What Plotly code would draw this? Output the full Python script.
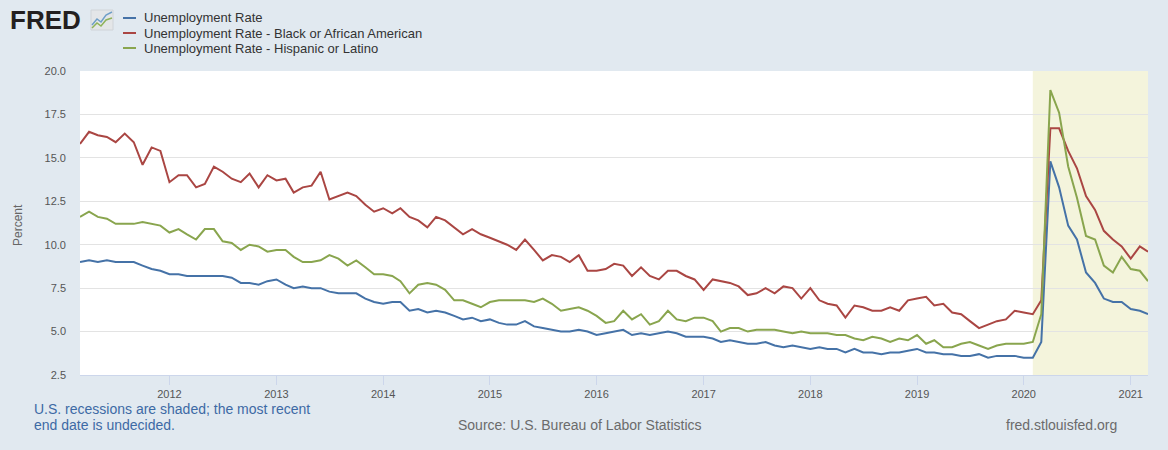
import pandas as pd
import plotly.graph_objects as go

# ---------------- data ----------------
start_month = "2011-03-01"
n_months = 121
months = pd.date_range(start_month, periods=n_months, freq="MS")

unrate = [
    9.0, 9.1, 9.0, 9.1, 9.0, 9.0, 9.0, 8.8, 8.6, 8.5,
    8.3, 8.3, 8.2, 8.2, 8.2, 8.2, 8.2, 8.1, 7.8, 7.8, 7.7, 7.9,
    8.0, 7.7, 7.5, 7.6, 7.5, 7.5, 7.3, 7.2, 7.2, 7.2, 6.9, 6.7,
    6.6, 6.7, 6.7, 6.2, 6.3, 6.1, 6.2, 6.1, 5.9, 5.7, 5.8, 5.6,
    5.7, 5.5, 5.4, 5.4, 5.6, 5.3, 5.2, 5.1, 5.0, 5.0, 5.1, 5.0,
    4.8, 4.9, 5.0, 5.1, 4.8, 4.9, 4.8, 4.9, 5.0, 4.9, 4.7, 4.7,
    4.7, 4.6, 4.4, 4.5, 4.4, 4.3, 4.3, 4.4, 4.2, 4.1, 4.2, 4.1,
    4.0, 4.1, 4.0, 4.0, 3.8, 4.0, 3.8, 3.8, 3.7, 3.8, 3.8, 3.9,
    4.0, 3.8, 3.8, 3.7, 3.7, 3.6, 3.6, 3.7, 3.5, 3.6, 3.6, 3.6,
    3.5, 3.5, 4.4, 14.8, 13.3, 11.1, 10.3, 8.4, 7.8, 6.9, 6.7, 6.7,
    6.3, 6.2, 6.0,
]
black = [
    15.8, 16.5, 16.3, 16.2, 15.9, 16.4, 15.9, 14.6, 15.6, 15.4,
    13.6, 14.0, 14.0, 13.3, 13.5, 14.5, 14.2, 13.8, 13.6, 14.1, 13.3, 14.0,
    13.7, 13.8, 13.0, 13.3, 13.4, 14.2, 12.6, 12.8, 13.0, 12.8, 12.3, 11.9,
    12.1, 11.8, 12.1, 11.6, 11.4, 11.0, 11.6, 11.4, 11.0, 10.6, 10.9, 10.6,
    10.4, 10.2, 10.0, 9.7, 10.3, 9.7, 9.1, 9.4, 9.3, 9.0, 9.4, 8.5,
    8.5, 8.6, 8.9, 8.8, 8.2, 8.7, 8.2, 8.0, 8.5, 8.5, 8.2, 8.0,
    7.4, 8.0, 7.9, 7.8, 7.6, 7.1, 7.2, 7.5, 7.2, 7.6, 7.5, 6.9,
    7.5, 6.8, 6.6, 6.5, 5.8, 6.5, 6.4, 6.2, 6.2, 6.4, 6.2, 6.8,
    6.9, 7.0, 6.5, 6.6, 6.1, 6.0, 5.6, 5.2, 5.4, 5.6, 5.7, 6.2,
    6.1, 6.0, 6.8, 16.7, 16.7, 15.4, 14.4, 12.8, 12.0, 10.8, 10.3, 9.9,
    9.2, 9.9, 9.6,
]
hispanic = [
    11.6, 11.9, 11.6, 11.5, 11.2, 11.2, 11.2, 11.3, 11.2, 11.1,
    10.7, 10.9, 10.6, 10.3, 10.9, 10.9, 10.2, 10.1, 9.7, 10.0, 9.9, 9.6,
    9.7, 9.7, 9.3, 9.0, 9.0, 9.1, 9.4, 9.2, 8.8, 9.1, 8.7, 8.3,
    8.3, 8.2, 7.9, 7.2, 7.7, 7.8, 7.7, 7.4, 6.8, 6.8, 6.6, 6.4,
    6.7, 6.8, 6.8, 6.8, 6.8, 6.7, 6.9, 6.6, 6.2, 6.3, 6.4, 6.2,
    5.9, 5.5, 5.6, 6.2, 5.7, 6.0, 5.4, 5.6, 6.2, 5.7, 5.6, 5.8,
    5.8, 5.6, 5.0, 5.2, 5.2, 5.0, 5.1, 5.1, 5.1, 5.0, 4.9, 5.0,
    4.9, 4.9, 4.9, 4.8, 4.8, 4.6, 4.5, 4.7, 4.6, 4.4, 4.6, 4.5,
    4.8, 4.3, 4.5, 4.1, 4.1, 4.3, 4.4, 4.2, 4.0, 4.2, 4.3, 4.3,
    4.3, 4.4, 6.0, 18.9, 17.6, 14.5, 12.7, 10.5, 10.3, 8.8, 8.4, 9.3,
    8.6, 8.5, 7.9,
]
series_names = [
    "Unemployment Rate",
    "Unemployment Rate - Black or African American",
    "Unemployment Rate - Hispanic or Latino",
]
series_colors = ["#4572a7", "#aa4643", "#89a54e"]
recession_start = "2020-02-01"
recession_end = "2021-03-01"
tick_years = [2012, 2013, 2014, 2015, 2016, 2017, 2018, 2019, 2020, 2021]
y_ticks = [2.5, 5.0, 7.5, 10.0, 12.5, 15.0, 17.5, 20.0]

# ---------------- layout geometry ----------------
W, H = 1168, 450
L, R, T, B = 80, 20, 71, 75
PW, PH = W - L - R, H - T - B
FONT = "Liberation Sans, Arial, sans-serif"
BG = "#e1e9f0"


def px(xp):
    return (xp - L) / PW


def py(yp):
    return (H - B - yp) / PH


fig = go.Figure()
for vals, name, col in zip([unrate, black, hispanic], series_names, series_colors):
    fig.add_trace(go.Scatter(
        x=months, y=vals, mode="lines", name=name,
        line=dict(color=col, width=2), showlegend=False,
    ))

shapes = [
    dict(type="rect", xref="x", yref="paper", x0=recession_start, x1=recession_end,
         y0=0, y1=1, fillcolor="#f4f4dc", line=dict(width=0), layer="below"),
]
annotations = []

# custom legend
for k, (name, col) in enumerate(zip(series_names, series_colors)):
    yy = 18 + 15 * k
    shapes.append(dict(type="line", xref="paper", yref="paper",
                       x0=px(123), x1=px(136), y0=py(yy), y1=py(yy),
                       line=dict(color=col, width=2)))
    annotations.append(dict(xref="paper", yref="paper", x=px(142), y=py(yy),
                            xanchor="left", yanchor="middle", showarrow=False,
                            text=name, font=dict(family=FONT, size=13, color="#333333")))

# FRED logo
annotations.append(dict(xref="paper", yref="paper", x=px(8), y=py(20),
                        xanchor="left", yanchor="middle", showarrow=False,
                        text="<b>FRED</b>",
                        font=dict(family=FONT, size=26, color="#231f20")))
shapes.append(dict(type="rect", xref="paper", yref="paper",
                   x0=px(91), x1=px(113), y0=py(30), y1=py(10),
                   fillcolor="#e4e6e8", line=dict(color="#d0d4d8", width=1)))
shapes.append(dict(type="path", xref="paper", yref="paper",
                   path="M {} {} L {} {} L {} {} L {} {} L {} {}".format(
                       px(92), py(25), px(97), py(19), px(101), py(22), px(106), py(15), px(112), py(12)),
                   line=dict(color="#6f9fc8", width=1.5)))
shapes.append(dict(type="path", xref="paper", yref="paper",
                   path="M {} {} L {} {} L {} {} L {} {} L {} {}".format(
                       px(92), py(28), px(97), py(23), px(101), py(26), px(106), py(20), px(112), py(18)),
                   line=dict(color="#8fb35a", width=1.5)))

# y axis title
annotations.append(dict(xref="paper", yref="paper", x=px(18), y=py(225),
                        xanchor="center", yanchor="middle", showarrow=False,
                        text="Percent", textangle=-90,
                        font=dict(family=FONT, size=12, color="#666666")))

# footer
annotations += [
    dict(xref="paper", yref="paper", x=px(32), y=py(409), xanchor="left", yanchor="middle",
         showarrow=False, text="U.S. recessions are shaded; the most recent",
         font=dict(family=FONT, size=14, color="#3d6aa5")),
    dict(xref="paper", yref="paper", x=px(32), y=py(425), xanchor="left", yanchor="middle",
         showarrow=False, text="end date is undecided.",
         font=dict(family=FONT, size=14, color="#3d6aa5")),
    dict(xref="paper", yref="paper", x=px(456), y=py(425), xanchor="left", yanchor="middle",
         showarrow=False, text="Source: U.S. Bureau of Labor Statistics",
         font=dict(family=FONT, size=14, color="#6b6b6b")),
    dict(xref="paper", yref="paper", x=px(1004), y=py(425), xanchor="left", yanchor="middle",
         showarrow=False, text="fred.stlouisfed.org",
         font=dict(family=FONT, size=14, color="#6b6b6b")),
]

fig.update_layout(
    width=W, height=H,
    margin=dict(l=L, r=R, t=T, b=B, autoexpand=False),
    paper_bgcolor=BG, plot_bgcolor="#ffffff",
    font=dict(family=FONT, size=11, color="#555555"),
    shapes=shapes, annotations=annotations,
    hovermode="x unified",
)
fig.update_xaxes(
    range=[months[0], months[-1]],
    tickvals=[f"{yr}-01-01" for yr in tick_years],
    ticktext=[str(yr) for yr in tick_years],
    ticks="outside", ticklen=9, tickcolor="#ccd6eb", tickwidth=1,
    showline=True, linecolor="#ccd6eb", linewidth=1,
    showgrid=False, zeroline=False,
    tickfont=dict(family=FONT, size=11, color="#555555"),
)
fig.update_yaxes(
    range=[2.5, 20.0], tickvals=y_ticks, tickformat=".1f",
    gridcolor="#e3e3e3", gridwidth=1, zeroline=False, showline=False,
    ticks="", ticklabelstandoff=13,
    tickfont=dict(family=FONT, size=11, color="#555555"),
)

fig.write_html("out.html")
